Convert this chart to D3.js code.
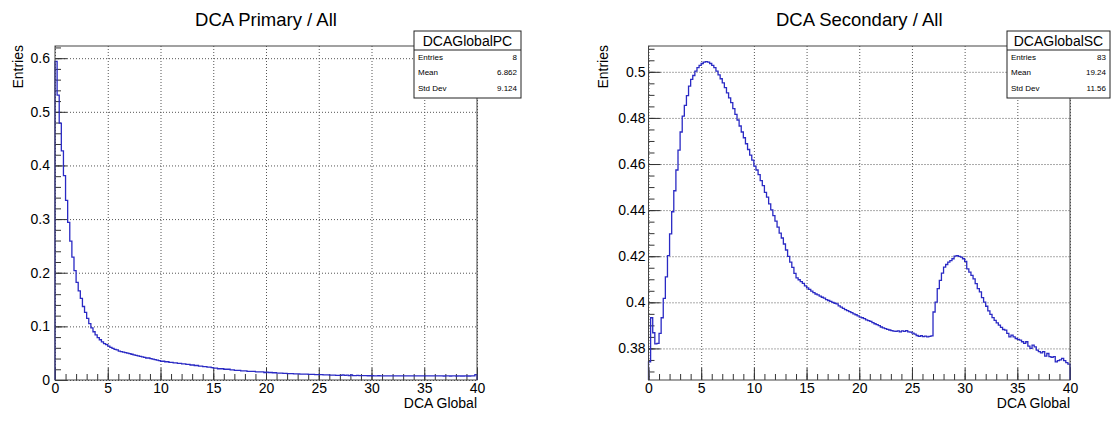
<!DOCTYPE html>
<html lang="en">
<head>
<meta charset="UTF-8">
<script src="https://d3js.org/d3.v7.min.js"></script>
<title>DCA Primary / Secondary</title>
<style>
    body { margin: 0; background: #fff; }
    svg text { font-family: "Liberation Sans", Arial, Helvetica, sans-serif; fill: #000; }
    .grid line { stroke: #555; stroke-dasharray: 1,2; }
    .grid path, .ticks path { display: none; }
    .ticks line { stroke: #333; }
</style>
</head>
<body>
<svg id="chart" width="1112" height="429"></svg>
<script>
// histogram range, 200 bins of 0.2
var xMin = 0, xMax = 40;

// DCA Primary / All, bin contents
var primaryAll = [
    0.594, 0.531, 0.479, 0.427, 0.381, 0.335, 0.294, 0.259, 0.229, 0.204,
    0.182, 0.166, 0.152, 0.137, 0.126, 0.115, 0.105, 0.097, 0.090, 0.084,
    0.079, 0.075, 0.071, 0.068, 0.066, 0.063, 0.061, 0.059, 0.057, 0.056,
    0.054, 0.053, 0.052, 0.051, 0.050, 0.049, 0.048, 0.047, 0.046, 0.045,
    0.044, 0.043, 0.042, 0.041, 0.041, 0.040, 0.039, 0.038, 0.037, 0.036,
    0.035, 0.035, 0.034, 0.034, 0.033, 0.033, 0.032, 0.032, 0.031, 0.031,
    0.030, 0.030, 0.029, 0.029, 0.028, 0.028, 0.027, 0.027, 0.026, 0.026,
    0.025, 0.025, 0.024, 0.024, 0.023, 0.022, 0.022, 0.021, 0.021, 0.021,
    0.020, 0.020, 0.020, 0.019, 0.019, 0.018, 0.018, 0.018, 0.017, 0.017,
    0.017, 0.016, 0.016, 0.016, 0.016, 0.015, 0.015, 0.015, 0.015, 0.014,
    0.0145, 0.014, 0.014, 0.0135, 0.0135, 0.013, 0.013, 0.013, 0.0125, 0.0125,
    0.012, 0.012, 0.012, 0.0115, 0.0115, 0.0115, 0.011, 0.011, 0.011, 0.011,
    0.0105, 0.0105, 0.0105, 0.010, 0.010, 0.010, 0.010, 0.0095, 0.0095, 0.0095,
    0.009, 0.009, 0.009, 0.0088, 0.0086, 0.0085, 0.0094, 0.0085, 0.0092, 0.0083,
    0.0093, 0.0083, 0.0082, 0.0088, 0.008, 0.008, 0.0082, 0.008, 0.0079, 0.0079,
    0.0079, 0.0078, 0.0078, 0.0079, 0.0078, 0.0078, 0.0077, 0.0078, 0.0078, 0.0077,
    0.0077, 0.0078, 0.0077, 0.0077, 0.0078, 0.0077, 0.0077, 0.0076, 0.0077, 0.0077,
    0.0076, 0.0077, 0.0077, 0.0076, 0.0077, 0.0076, 0.0076, 0.0077, 0.0076, 0.0076,
    0.0076, 0.0076, 0.0077, 0.0076, 0.0075, 0.0076, 0.0076, 0.0075, 0.0076, 0.0076,
    0.0075, 0.0076, 0.0075, 0.0075, 0.0076, 0.0075, 0.0075, 0.0076, 0.0077, 0.0102
];

// DCA Secondary / All, bin contents
var secondaryAll = [
    0.3742, 0.3933, 0.3868, 0.3820, 0.3822, 0.3865, 0.3933, 0.4017, 0.4110, 0.4203,
    0.4297, 0.4393, 0.4484, 0.4574, 0.4660, 0.4739, 0.4808, 0.4854, 0.4897, 0.4938,
    0.4967, 0.4984, 0.5003, 0.5018, 0.5028, 0.5036, 0.5042, 0.5044, 0.5042, 0.5036,
    0.5028, 0.5018, 0.5003, 0.4987, 0.4970, 0.4952, 0.4931, 0.4909, 0.4887, 0.4866,
    0.4840, 0.4815, 0.4791, 0.4765, 0.4739, 0.4714, 0.4688, 0.4663, 0.4639, 0.4617,
    0.4591, 0.4574, 0.4554, 0.4528, 0.4506, 0.4477, 0.4456, 0.4427, 0.4401, 0.4376,
    0.4352, 0.4326, 0.4300, 0.4279, 0.4253, 0.4227, 0.4199, 0.4174, 0.4152, 0.4126,
    0.4106, 0.4098, 0.4090, 0.4082, 0.4071, 0.4063, 0.4056, 0.4049, 0.4042, 0.4036,
    0.4032, 0.4027, 0.4022, 0.4018, 0.4012, 0.4008, 0.4004, 0.4000, 0.3996, 0.3993,
    0.3985, 0.3979, 0.3974, 0.3968, 0.3964, 0.3960, 0.3955, 0.3950, 0.3946, 0.3941,
    0.3936, 0.3933, 0.3929, 0.3924, 0.3921, 0.3917, 0.3912, 0.3907, 0.3903, 0.3899,
    0.3893, 0.3889, 0.3886, 0.3883, 0.3880, 0.3877, 0.3875, 0.3874, 0.3876, 0.3872,
    0.3876, 0.3874, 0.3877, 0.3872, 0.3871, 0.3866, 0.3862, 0.3856, 0.3852, 0.3855,
    0.3851, 0.3853, 0.3850, 0.3852, 0.3854, 0.3958, 0.4001, 0.4059, 0.4095, 0.4127,
    0.4153, 0.4164, 0.4174, 0.4181, 0.4189, 0.4200, 0.4203, 0.4199, 0.4196, 0.4189,
    0.4178, 0.4145, 0.4131, 0.4117, 0.4102, 0.4081, 0.4059, 0.4045, 0.4020, 0.4001,
    0.3983, 0.3963, 0.3948, 0.3934, 0.3922, 0.3911, 0.3901, 0.3891, 0.3882, 0.3879,
    0.3865, 0.3850, 0.3858, 0.3850, 0.3843, 0.3839, 0.3836, 0.3829, 0.3822, 0.3829,
    0.3810, 0.3800, 0.3814, 0.3807, 0.3793, 0.3786, 0.3781, 0.3786, 0.3767, 0.3778,
    0.3764, 0.3761, 0.3764, 0.3742, 0.3747, 0.3750, 0.3757, 0.3747, 0.3738, 0.3732
];

// tick values and labels
var xTicks = [0, 5, 10, 15, 20, 25, 30, 35, 40];
var xTickLabels = ["0", "5", "10", "15", "20", "25", "30", "35", "40"];
var yTicksPrimary = [0, 0.1, 0.2, 0.3, 0.4, 0.5, 0.6];
var yTickLabelsPrimary = ["0", "0.1", "0.2", "0.3", "0.4", "0.5", "0.6"];
var yTicksSecondary = [0.38, 0.40, 0.42, 0.44, 0.46, 0.48, 0.50];
var yTickLabelsSecondary = ["0.38", "0.4", "0.42", "0.44", "0.46", "0.48", "0.5"];

// stats boxes
var statLabels = ["Entries", "Mean", "Std Dev"];
var statsPrimary = ["8", "6.862", "9.124"];
var statsSecondary = ["83", "19.24", "11.56"];

var svg = d3.select("#chart");
svg.append("rect").attr("width", 1112).attr("height", 429).attr("fill", "#fff");

function drawPanel(p) {
    var x = d3.scaleLinear().domain([xMin, xMax]).range([p.left, p.right]);
    var y = d3.scaleLinear().domain(p.yDomain).range([p.bottom, p.top]);
    var g = svg.append("g");
    var w = p.right - p.left, h = p.bottom - p.top;

    //grid
    g.append("g").attr("class", "grid")
        .attr("transform", "translate(0," + p.bottom + ")")
        .call(d3.axisBottom(x).tickValues(xTicks).tickSize(-h).tickFormat(""));
    g.append("g").attr("class", "grid")
        .attr("transform", "translate(" + p.left + ",0)")
        .call(d3.axisLeft(y).tickValues(p.yTicks).tickSize(-w).tickFormat(""));

    //minor ticks
    g.append("g").attr("class", "ticks")
        .attr("transform", "translate(0," + p.bottom + ")")
        .call(d3.axisBottom(x).tickValues(d3.range(xMin, xMax + 0.5, 1)).tickSize(-6).tickFormat(""));
    g.append("g").attr("class", "ticks")
        .attr("transform", "translate(" + p.left + ",0)")
        .call(d3.axisLeft(y).tickValues(p.yMinor).tickSize(-6).tickFormat(""));

    //major ticks + labels
    var ax = g.append("g").attr("class", "ticks")
        .attr("transform", "translate(0," + p.bottom + ")")
        .call(d3.axisBottom(x).tickValues(xTicks).tickSize(-12).tickPadding(3)
            .tickFormat(function (d, i) { return xTickLabels[i]; }));
    var ay = g.append("g").attr("class", "ticks")
        .attr("transform", "translate(" + p.left + ",0)")
        .call(d3.axisLeft(y).tickValues(p.yTicks).tickSize(-12).tickPadding(p.labelPad)
            .tickFormat(function (d, i) { return p.yLabels[i]; }));
    ax.selectAll("text").attr("font-size", "14px").attr("fill", "#000");
    ay.selectAll("text").attr("font-size", "14px").attr("fill", "#000");

    //histogram outline
    var pts = [[xMin, p.yDomain[0]]];
    var bw = (xMax - xMin) / p.values.length;
    p.values.forEach(function (v, i) {
        pts.push([xMin + i * bw, v]);
        pts.push([xMin + (i + 1) * bw, v]);
    });
    pts.push([xMax, p.yDomain[0]]);
    g.append("path")
        .datum(pts)
        .attr("fill", "none")
        .attr("stroke", "#2a2ac4")
        .attr("stroke-width", 1.3)
        .attr("d", d3.line().x(function (d) { return x(d[0]); }).y(function (d) { return y(d[1]); }));

    //frame
    g.append("rect")
        .attr("x", p.left).attr("y", p.top).attr("width", w).attr("height", h)
        .attr("fill", "none").attr("stroke", "#444").attr("stroke-width", 1);

    //titles
    svg.append("text").attr("x", (p.left + p.right) / 2).attr("y", 26)
        .attr("text-anchor", "middle").attr("font-size", "18.5px").text(p.title);
    svg.append("text").attr("x", p.right).attr("y", 408)
        .attr("text-anchor", "end").attr("font-size", "14px").text("DCA Global");
    svg.append("text")
        .attr("transform", "translate(" + p.yTitleX + "," + (p.top - 1) + ") rotate(-90)")
        .attr("text-anchor", "end").attr("font-size", "14px").text("Entries");

    //stats box
    var b = p.box;
    var sb = svg.append("g");
    sb.append("rect").attr("x", b.x0).attr("y", 31).attr("width", b.x1 - b.x0).attr("height", 67)
        .attr("fill", "#fff").attr("stroke", "#222").attr("stroke-width", 1);
    sb.append("line").attr("x1", b.x0).attr("x2", b.x1).attr("y1", 50).attr("y2", 50)
        .attr("stroke", "#222");
    sb.append("text").attr("x", (b.x0 + b.x1) / 2).attr("y", 46)
        .attr("text-anchor", "middle").attr("font-size", "14px").text(p.name);
    statLabels.forEach(function (lab, i) {
        var yy = 59.5 + i * 15.5;
        sb.append("text").attr("x", b.x0 + 4).attr("y", yy).attr("font-size", "8px").text(lab);
        sb.append("text").attr("x", b.x1 - 4).attr("y", yy).attr("text-anchor", "end")
            .attr("font-size", "8px").text(p.stats[i]);
    });
}

drawPanel({
    title: "DCA Primary / All", name: "DCAGlobalPC",
    left: 55, right: 477, top: 46, bottom: 380,
    yDomain: [0, 0.6227], yTicks: yTicksPrimary, yLabels: yTickLabelsPrimary,
    yMinor: d3.range(0, 0.621, 0.02), labelPad: 5, yTitleX: 23,
    values: primaryAll, stats: statsPrimary, box: { x0: 414, x1: 521 }
});

drawPanel({
    title: "DCA Secondary / All", name: "DCAGlobalSC",
    left: 648.5, right: 1070, top: 46, bottom: 380,
    yDomain: [0.3663, 0.5112], yTicks: yTicksSecondary, yLabels: yTickLabelsSecondary,
    yMinor: d3.range(0.37, 0.5111, 0.005), labelPad: 3, yTitleX: 608,
    values: secondaryAll, stats: statsSecondary, box: { x0: 1007, x1: 1110 }
});
</script>
</body>
</html>
